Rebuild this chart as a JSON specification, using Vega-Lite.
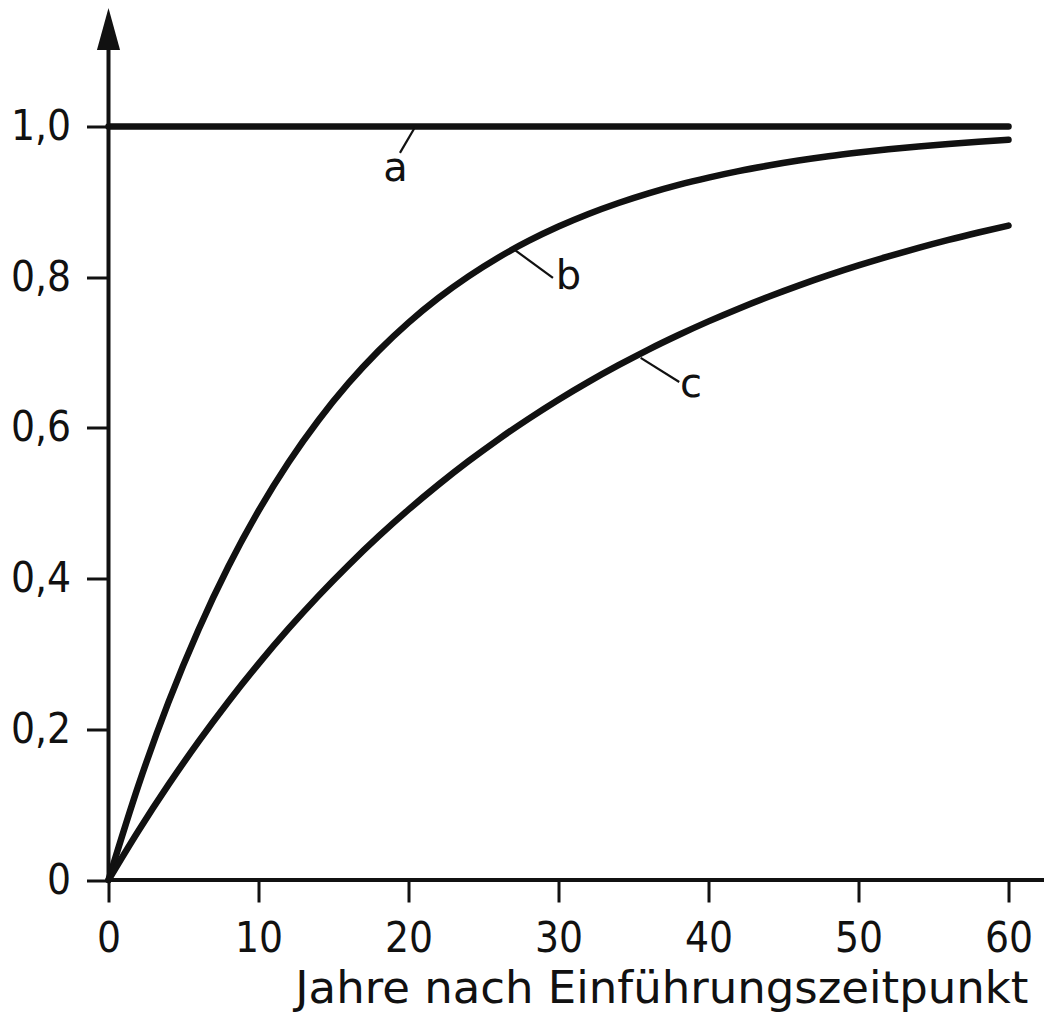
{
  "$schema": "https://vega.github.io/schema/vega-lite/v6.json",
  "width": 900,
  "height": 866.5,
  "autosize": {"type": "none"},
  "padding": {"left": 108.5, "top": 13.5, "right": 35.5, "bottom": 135},
  "background": "white",
  "config": {"view": {"stroke": null}, "font": "DejaVu Sans"},
  "datasets": {
    "curves": [
      {"t": 0, "series": "a", "v": 1.0},
      {"t": 60, "series": "a", "v": 1.0},
      {"t": 0, "series": "b", "v": 0},
      {"t": 2, "series": "b", "v": 0.1259},
      {"t": 4, "series": "b", "v": 0.2360},
      {"t": 6, "series": "b", "v": 0.3322},
      {"t": 8, "series": "b", "v": 0.4163},
      {"t": 10, "series": "b", "v": 0.4898},
      {"t": 12, "series": "b", "v": 0.5541},
      {"t": 14, "series": "b", "v": 0.6102},
      {"t": 16, "series": "b", "v": 0.6593},
      {"t": 18, "series": "b", "v": 0.7022},
      {"t": 20, "series": "b", "v": 0.7397},
      {"t": 22, "series": "b", "v": 0.7725},
      {"t": 24, "series": "b", "v": 0.8011},
      {"t": 26, "series": "b", "v": 0.8262},
      {"t": 28, "series": "b", "v": 0.8481},
      {"t": 30, "series": "b", "v": 0.8672},
      {"t": 32, "series": "b", "v": 0.8839},
      {"t": 34, "series": "b", "v": 0.8985},
      {"t": 36, "series": "b", "v": 0.9113},
      {"t": 38, "series": "b", "v": 0.9225},
      {"t": 40, "series": "b", "v": 0.9322},
      {"t": 42, "series": "b", "v": 0.9408},
      {"t": 44, "series": "b", "v": 0.9482},
      {"t": 46, "series": "b", "v": 0.9548},
      {"t": 48, "series": "b", "v": 0.9605},
      {"t": 50, "series": "b", "v": 0.9654},
      {"t": 52, "series": "b", "v": 0.9698},
      {"t": 54, "series": "b", "v": 0.9736},
      {"t": 56, "series": "b", "v": 0.9769},
      {"t": 58, "series": "b", "v": 0.9798},
      {"t": 60, "series": "b", "v": 0.9824},
      {"t": 0, "series": "c", "v": 0},
      {"t": 2, "series": "c", "v": 0.0654},
      {"t": 4, "series": "c", "v": 0.1265},
      {"t": 6, "series": "c", "v": 0.1836},
      {"t": 8, "series": "c", "v": 0.2370},
      {"t": 10, "series": "c", "v": 0.2869},
      {"t": 12, "series": "c", "v": 0.3335},
      {"t": 14, "series": "c", "v": 0.3771},
      {"t": 16, "series": "c", "v": 0.4178},
      {"t": 18, "series": "c", "v": 0.4559},
      {"t": 20, "series": "c", "v": 0.4915},
      {"t": 22, "series": "c", "v": 0.5247},
      {"t": 24, "series": "c", "v": 0.5558},
      {"t": 26, "series": "c", "v": 0.5849},
      {"t": 28, "series": "c", "v": 0.6120},
      {"t": 30, "series": "c", "v": 0.6374},
      {"t": 32, "series": "c", "v": 0.6611},
      {"t": 34, "series": "c", "v": 0.6832},
      {"t": 36, "series": "c", "v": 0.7040},
      {"t": 38, "series": "c", "v": 0.7233},
      {"t": 40, "series": "c", "v": 0.7414},
      {"t": 42, "series": "c", "v": 0.7583},
      {"t": 44, "series": "c", "v": 0.7741},
      {"t": 46, "series": "c", "v": 0.7889},
      {"t": 48, "series": "c", "v": 0.8027},
      {"t": 50, "series": "c", "v": 0.8156},
      {"t": 52, "series": "c", "v": 0.8276},
      {"t": 54, "series": "c", "v": 0.8389},
      {"t": 56, "series": "c", "v": 0.8495},
      {"t": 58, "series": "c", "v": 0.8593},
      {"t": 60, "series": "c", "v": 0.8685}
    ],
    "axislines": [
      {"t": 0, "v": 0, "t2": 62.4, "v2": 0},
      {"t": 0, "v": 0, "t2": 0, "v2": 1.11}
    ],
    "leaders": [
      {"series": "a", "t": 20.43, "v": 0.999, "t2": 19.43, "v2": 0.965},
      {"series": "b", "t": 27.1, "v": 0.836, "t2": 29.63, "v2": 0.799},
      {"series": "c", "t": 35.48, "v": 0.693, "t2": 38.05, "v2": 0.661}
    ],
    "labels": [
      {"series": "a", "t": 19.13, "v": 0.944},
      {"series": "b", "t": 30.67, "v": 0.800},
      {"series": "c", "t": 38.83, "v": 0.657}
    ],
    "arrow": [{"t": 0, "v": 1.1294}]
  },
  "layer": [
    {
      "data": {"name": "curves"},
      "mark": {"type": "line", "interpolate": "monotone", "strokeWidth": 6.5, "color": "#111", "strokeCap": "round", "clip": false},
      "encoding": {
        "x": {
          "field": "t", "type": "quantitative",
          "scale": {"domain": [0, 60], "nice": false, "zero": false},
          "axis": {
            "values": [0, 10, 20, 30, 40, 50, 60],
            "domain": false, "grid": false, "labelFlush": false,
            "tickSize": 22, "tickWidth": 3, "tickColor": "#111",
            "labelFont": "Liberation Sans Narrow, DejaVu Sans Condensed, Roboto, sans-serif",
            "labelFontSize": 42, "labelColor": "#111", "labelPadding": 16,
            "title": "Jahre nach Einführungszeitpunkt",
            "titleFont": "DejaVu Sans", "titleFontSize": 45, "titleFontWeight": "normal",
            "titleColor": "#111", "titleAlign": "right", "titleAnchor": "end",
            "titleBaseline": "alphabetic", "titleX": 919.5, "titleY": 122
          }
        },
        "y": {
          "field": "v", "type": "quantitative",
          "scale": {"domain": [0, 1.15], "nice": false, "zero": false},
          "axis": {
            "values": [0, 0.2, 0.4, 0.6, 0.8, 1.0],
            "labelExpr": "datum.value == 0 ? '0' : replace(format(datum.value, '.1f'), '.', ',')",
            "domain": false, "grid": false, "labelFlush": false,
            "tickSize": 22, "tickWidth": 3, "tickColor": "#111",
            "labelFont": "Liberation Sans Narrow, DejaVu Sans Condensed, Roboto, sans-serif",
            "labelFontSize": 42, "labelColor": "#111", "labelPadding": 16,
            "title": null
          }
        },
        "detail": {"field": "series"}
      }
    },
    {
      "data": {"name": "axislines"},
      "mark": {"type": "rule", "strokeWidth": 4, "color": "#111", "clip": false},
      "encoding": {
        "x": {"field": "t", "type": "quantitative"},
        "y": {"field": "v", "type": "quantitative"},
        "x2": {"field": "t2"},
        "y2": {"field": "v2"}
      }
    },
    {
      "data": {"name": "leaders"},
      "mark": {"type": "rule", "strokeWidth": 2.2, "color": "#111"},
      "encoding": {
        "x": {"field": "t", "type": "quantitative"},
        "y": {"field": "v", "type": "quantitative"},
        "x2": {"field": "t2"},
        "y2": {"field": "v2"}
      }
    },
    {
      "data": {"name": "labels"},
      "mark": {"type": "text", "font": "DejaVu Sans", "fontSize": 40, "color": "#111", "align": "center", "baseline": "middle"},
      "encoding": {
        "x": {"field": "t", "type": "quantitative"},
        "y": {"field": "v", "type": "quantitative"},
        "text": {"field": "series"}
      }
    },
    {
      "data": {"name": "arrow"},
      "mark": {"type": "point", "shape": "M0,-1L0.55,1L-0.55,1Z", "size": 1764, "filled": true, "color": "#111", "opacity": 1, "clip": false},
      "encoding": {
        "x": {"field": "t", "type": "quantitative"},
        "y": {"field": "v", "type": "quantitative"}
      }
    }
  ]
}
